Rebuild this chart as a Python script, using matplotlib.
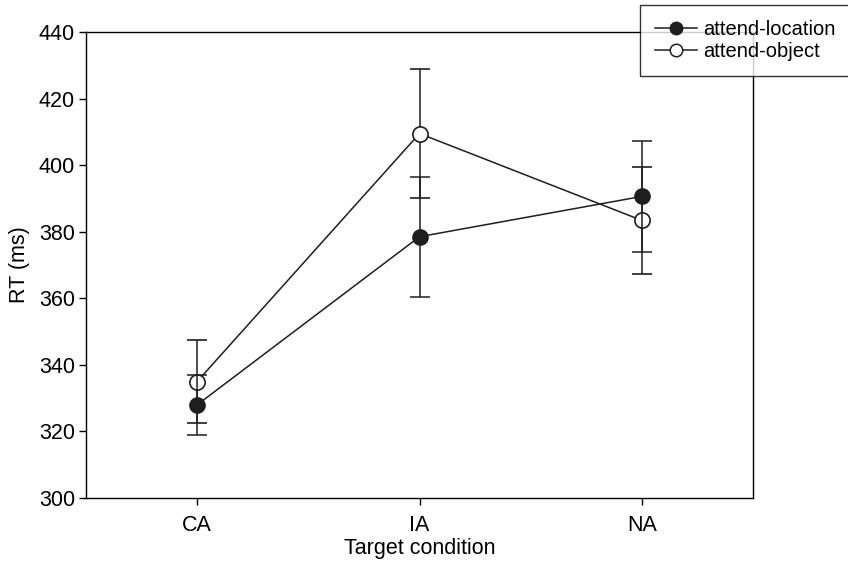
import matplotlib
matplotlib.use("Agg")
import matplotlib.pyplot as plt
from matplotlib.lines import Line2D
import numpy as np

plt.rcParams['font.family'] = ['Liberation Sans', 'DejaVu Sans']

categories = ["CA", "IA", "NA"]
loc_mean = [328.0, 378.5, 390.6]
loc_err = [9.0, 18.0, 16.6]
obj_mean = [335.0, 409.5, 383.4]
obj_err = [12.5, 19.5, 16.0]

col = '#1e1e1e'
fig = plt.figure(figsize=(8.48, 5.63), dpi=100)
ax = fig.add_axes([86/848, 1-498/563, (753-86)/848, (498-32)/563])

x = np.arange(1, len(categories)+1)
ax.errorbar(x, obj_mean, yerr=obj_err, color=col, lw=1.1, capsize=7,
            elinewidth=1.1, capthick=1.1, marker='o', markersize=11,
            markerfacecolor='white', markeredgecolor=col, markeredgewidth=1.2,
            zorder=3)
ax.errorbar(x, loc_mean, yerr=loc_err, color=col, lw=1.1, capsize=7,
            elinewidth=1.1, capthick=1.1, marker='o', markersize=11,
            markerfacecolor=col, markeredgecolor=col,
            zorder=4)

ax.set_xlim(0.5, 3.5)
ax.set_ylim(300, 440)
ax.set_xticks(x)
ax.set_xticklabels(categories)
ax.set_yticks(np.arange(300, 441, 20))
ax.tick_params(direction='out', length=5, labelsize=15.5, width=1, pad=3)
ax.tick_params(axis='x', pad=7)
ax.set_xlabel('Target condition', fontsize=15.5, labelpad=2)
ax.set_ylabel('RT (ms)', fontsize=15.5, labelpad=6)
for s in ax.spines.values():
    s.set_linewidth(1)

handles = [
    Line2D([0], [0], color=col, lw=1.1, marker='o', markersize=9,
           markerfacecolor=col, markeredgecolor=col),
    Line2D([0], [0], color=col, lw=1.1, marker='o', markersize=9,
           markerfacecolor='white', markeredgecolor=col, markeredgewidth=1.1),
]
labels = ['attend-location', 'attend-object']
leg = fig.legend(handles, labels,
                 loc='upper left', bbox_to_anchor=(640/848, 1-5/563),
                 frameon=True, fancybox=False, edgecolor='black',
                 fontsize=14.5, handlelength=2.1, handletextpad=0.3,
                 borderpad=0.75, labelspacing=0.15, borderaxespad=0)
leg.get_frame().set_linewidth(1)

fig.savefig('out.png', dpi=100)
